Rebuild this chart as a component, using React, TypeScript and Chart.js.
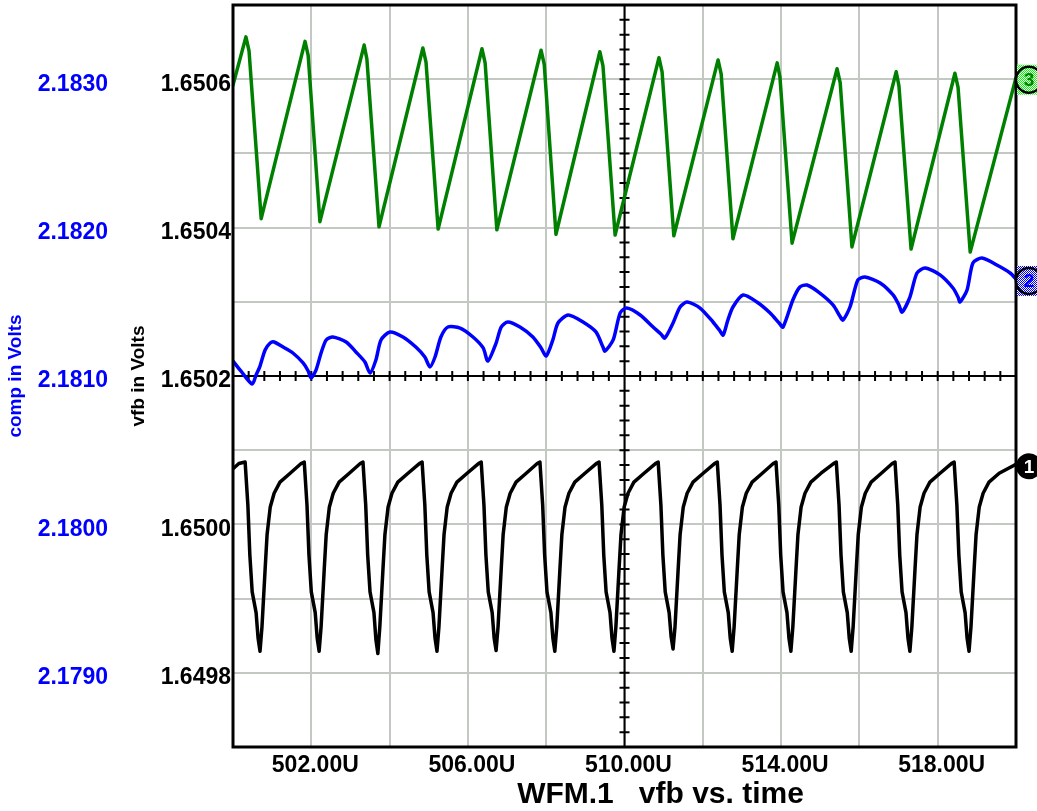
import React, { useEffect, useRef } from 'react';
import { Chart, registerables } from 'chart.js';

Chart.register(...registerables);

// ---------- axes ----------
const timeRange = [500, 520];
const vfbRange = [1.6497, 1.6507];
const compRange = [2.1785, 2.1835];
const crossTime = 510;
const crossVfb = 1.6502;
const xTickLabels = ['502.00U', '506.00U', '510.00U', '514.00U', '518.00U'];
const vfbTickLabels = ['1.6498', '1.6500', '1.6502', '1.6504', '1.6506'];
const compTickLabels = ['2.1790', '2.1800', '2.1810', '2.1820', '2.1830'];
const vfbTitle = 'vfb in Volts';
const compTitle = 'comp in Volts';
const chartTitle = 'WFM.1   vfb vs. time';
const traceTags = ['3', '2', '1'];

// ---------- trace 3 (green, vfb units) ----------
const greenTime = [
  500.0, 500.33, 500.41, 500.72, 501.84, 501.92, 502.22, 503.35, 503.42, 503.73,
  504.85, 504.93, 505.24, 506.36, 506.44, 506.74, 507.87, 507.95, 508.25, 509.37,
  509.45, 509.76, 510.88, 510.96, 511.26, 512.39, 512.47, 512.77, 513.9, 513.97,
  514.28, 515.43, 515.51, 515.81, 516.94, 517.01, 517.32, 518.44, 518.52, 518.83, 520.0,
];
const greenVfb = [
  1.650592, 1.650657, 1.650638, 1.650412, 1.650651, 1.650632, 1.650408, 1.650646, 1.650627, 1.650401,
  1.650642, 1.650623, 1.650398, 1.650641, 1.650622, 1.650397, 1.650639, 1.65062, 1.650391, 1.650637,
  1.650618, 1.65039, 1.650629, 1.65061, 1.650389, 1.650626, 1.650607, 1.650385, 1.650622, 1.650603,
  1.650379, 1.650614, 1.650595, 1.650374, 1.65061, 1.650591, 1.650371, 1.650608, 1.650589, 1.650367, 1.650602,
];

// ---------- trace 2 (blue, comp units) ----------
const blueTime = [
  500.0, 500.2, 500.49, 500.59, 500.69, 500.82, 500.95, 501.05, 501.28, 501.53, 501.79, 501.92,
  501.99, 502.12, 502.25, 502.38, 502.55, 502.89, 503.14, 503.37,
  503.5, 503.65, 503.78, 504.01, 504.34, 504.67, 504.9,
  505.03, 505.16, 505.31, 505.49, 505.8, 506.13, 506.39,
  506.51, 506.72, 506.85, 507.02, 507.33, 507.66, 507.87,
  508.0, 508.17, 508.3, 508.56, 508.94, 509.27, 509.45,
  509.5, 509.71, 509.89, 510.06, 510.4, 510.73, 510.93,
  511.03, 511.24, 511.42, 511.6, 511.93, 512.26, 512.44,
  512.52, 512.64, 512.77, 513.03, 513.38, 513.72, 513.95,
  514.05, 514.3, 514.48, 514.66, 514.99, 515.33, 515.5,
  515.58, 515.76, 515.96, 516.14, 516.53, 516.86, 517.01,
  517.09, 517.29, 517.47, 517.68, 518.06, 518.39, 518.52,
  518.57, 518.75, 518.9, 519.13, 519.51, 519.85, 520.0,
];
const blueComp = [
  2.181101, 2.181034, 2.180946, 2.181007, 2.181067, 2.181175, 2.181222, 2.181229, 2.181195, 2.181155, 2.181088, 2.181034,
  2.180987, 2.18104, 2.181155, 2.181243, 2.181263, 2.181229, 2.181162, 2.181094,
  2.18102, 2.181108, 2.181243, 2.181297, 2.181263, 2.181195, 2.181128,
  2.181061, 2.181128, 2.181263, 2.18133, 2.181323, 2.181263, 2.181189,
  2.181101, 2.181222, 2.18133, 2.181364, 2.18133, 2.181263, 2.181189,
  2.181135, 2.181243, 2.181357, 2.181411, 2.181364, 2.181297, 2.181195,
  2.181168, 2.181243, 2.181425, 2.181458, 2.181411, 2.18133, 2.181283,
  2.181256, 2.181357, 2.181465, 2.181499, 2.181458, 2.181364, 2.181303,
  2.181276, 2.181377, 2.181465, 2.181546, 2.181499, 2.181425, 2.181357,
  2.18133, 2.181512, 2.1816, 2.181613, 2.181559, 2.181478, 2.181404,
  2.181377, 2.181465, 2.181647, 2.181667, 2.181627, 2.181546, 2.181478,
  2.181431, 2.181532, 2.181694, 2.181728, 2.181681, 2.181593, 2.181532,
  2.181499, 2.18158, 2.181762, 2.181795, 2.181748, 2.181694, 2.181654,
];

// ---------- trace 1 (black, vfb units) ----------
const blackTime = [
  500.0, 500.15,
  500.31, 500.38, 500.43, 500.49, 500.59, 500.64, 500.69, 500.74, 500.82, 500.87, 500.95, 501.05, 501.2, 501.46, 501.74,
  501.82, 501.89, 501.94, 502.0, 502.1, 502.15, 502.2, 502.25, 502.33, 502.38, 502.46, 502.56, 502.71, 502.97, 503.25,
  503.32, 503.39, 503.44, 503.5, 503.6, 503.65, 503.7, 503.75, 503.83, 503.88, 503.96, 504.06, 504.21, 504.47, 504.76,
  504.83, 504.9, 504.95, 505.01, 505.11, 505.16, 505.21, 505.26, 505.34, 505.39, 505.47, 505.57, 505.72, 505.98, 506.27,
  506.34, 506.41, 506.46, 506.52, 506.62, 506.67, 506.72, 506.77, 506.85, 506.9, 506.98, 507.08, 507.23, 507.49, 507.77,
  507.84, 507.91, 507.96, 508.02, 508.12, 508.17, 508.22, 508.27, 508.35, 508.4, 508.48, 508.58, 508.73, 508.99, 509.28,
  509.35, 509.42, 509.47, 509.53, 509.63, 509.68, 509.73, 509.78, 509.86, 509.91, 509.99, 510.09, 510.24, 510.5, 510.79,
  510.86, 510.93, 510.98, 511.04, 511.14, 511.19, 511.24, 511.29, 511.37, 511.42, 511.5, 511.6, 511.75, 512.01, 512.3,
  512.37, 512.44, 512.49, 512.55, 512.65, 512.7, 512.75, 512.8, 512.88, 512.93, 513.01, 513.11, 513.26, 513.52, 513.8,
  513.87, 513.94, 513.99, 514.05, 514.15, 514.2, 514.25, 514.3, 514.38, 514.43, 514.51, 514.61, 514.76, 515.02, 515.34,
  515.41, 515.48, 515.53, 515.59, 515.69, 515.74, 515.79, 515.84, 515.92, 515.97, 516.05, 516.15, 516.3, 516.56, 516.84,
  516.91, 516.98, 517.03, 517.09, 517.19, 517.24, 517.29, 517.34, 517.42, 517.47, 517.55, 517.65, 517.8, 518.06, 518.35,
  518.42, 518.49, 518.54, 518.6, 518.7, 518.75, 518.8, 518.85, 518.93, 518.98, 519.06, 519.16, 519.31, 519.57,
  520.0,
];
const blackVfb = [
  1.650075, 1.650082,
  1.650084, 1.650026, 1.649959, 1.649909, 1.649881, 1.649847, 1.649829, 1.649862, 1.649939, 1.649986, 1.650023, 1.650042, 1.650057, 1.650069, 1.650082,
  1.650084, 1.650026, 1.649959, 1.649909, 1.649881, 1.649847, 1.649829, 1.649862, 1.649939, 1.649986, 1.650023, 1.650042, 1.650057, 1.650069, 1.650082,
  1.650084, 1.650026, 1.649959, 1.649909, 1.649881, 1.649845, 1.649826, 1.649862, 1.649939, 1.649986, 1.650023, 1.650042, 1.650057, 1.650069, 1.650082,
  1.650084, 1.650026, 1.649959, 1.649909, 1.649881, 1.649847, 1.649829, 1.649862, 1.649939, 1.649986, 1.650023, 1.650042, 1.650057, 1.650069, 1.650082,
  1.650084, 1.650026, 1.649959, 1.649909, 1.649881, 1.649847, 1.64983, 1.649862, 1.649939, 1.649986, 1.650023, 1.650042, 1.650057, 1.650069, 1.650082,
  1.650084, 1.650026, 1.649959, 1.649909, 1.649881, 1.649847, 1.649829, 1.649862, 1.649939, 1.649986, 1.650023, 1.650042, 1.650057, 1.650069, 1.650082,
  1.650084, 1.650026, 1.649959, 1.649909, 1.649881, 1.649847, 1.649829, 1.649862, 1.649939, 1.649986, 1.650023, 1.650042, 1.650057, 1.650069, 1.650082,
  1.650084, 1.650026, 1.649959, 1.649909, 1.649881, 1.649849, 1.649832, 1.649862, 1.649939, 1.649986, 1.650023, 1.650042, 1.650057, 1.650069, 1.650082,
  1.650084, 1.650026, 1.649959, 1.649909, 1.649881, 1.649847, 1.649829, 1.649862, 1.649939, 1.649986, 1.650023, 1.650042, 1.650057, 1.650069, 1.650082,
  1.650084, 1.650026, 1.649959, 1.649909, 1.649881, 1.649847, 1.649829, 1.649862, 1.649939, 1.649986, 1.650023, 1.650042, 1.650057, 1.650069, 1.650082,
  1.650084, 1.650026, 1.649959, 1.649909, 1.649881, 1.649847, 1.649829, 1.649862, 1.649939, 1.649986, 1.650023, 1.650042, 1.650057, 1.650069, 1.650082,
  1.650084, 1.650026, 1.649959, 1.649909, 1.649881, 1.649847, 1.649829, 1.649862, 1.649939, 1.649986, 1.650023, 1.650042, 1.650057, 1.650069, 1.650082,
  1.650084, 1.650026, 1.649959, 1.649909, 1.649881, 1.649847, 1.649829, 1.649862, 1.649939, 1.649986, 1.650023, 1.650042, 1.650057, 1.650069,
  1.650081,
];

const FONT = "'Liberation Sans', Arial, Helvetica, sans-serif";
const GRID = '#c3c8c3';
const GREEN = '#008000';
const BLUE = '#0000ff';
const BLACK = '#000000';

function matchLabel(labels: string[], v: number, tol: number) {
  const hit = labels.find((l) => Math.abs(parseFloat(l) - v) < tol);
  return hit === undefined ? '' : hit;
}

function makeChecker(color: string) {
  const c = document.createElement('canvas');
  c.width = 2;
  c.height = 2;
  const g = c.getContext('2d')!;
  g.fillStyle = '#ffffff';
  g.fillRect(0, 0, 2, 2);
  g.fillStyle = color;
  g.fillRect(0, 0, 1, 1);
  g.fillRect(1, 1, 1, 1);
  return c;
}

const scopePlugin = {
  id: 'scopeDecor',
  beforeDatasetsDraw(chart: any) {
    const { ctx, chartArea: a, scales } = chart;
    const xs = scales.x;
    const ys = scales.vfb;
    const cx = xs.getPixelForValue(crossTime);
    const cy = ys.getPixelForValue(crossVfb);
    ctx.save();
    ctx.strokeStyle = BLACK;
    ctx.lineWidth = 2;
    ctx.beginPath();
    ctx.moveTo(cx, a.top);
    ctx.lineTo(cx, a.bottom);
    ctx.moveTo(a.left, cy);
    ctx.lineTo(a.right, cy);
    for (let i = 0; i <= 50; i++) {
      const y = ys.getPixelForValue(vfbRange[0] + i * 0.00002);
      ctx.moveTo(cx - 5, y);
      ctx.lineTo(cx + 5, y);
      const x = xs.getPixelForValue(timeRange[0] + i * 0.4);
      ctx.moveTo(x, cy - 5);
      ctx.lineTo(x, cy + 5);
    }
    ctx.stroke();
    ctx.restore();
  },
  afterDraw(chart: any) {
    const { ctx, chartArea: a } = chart;
    ctx.save();
    // frame
    ctx.strokeStyle = BLACK;
    ctx.lineWidth = 3;
    ctx.strokeRect(a.left, a.top, a.right - a.left, a.bottom - a.top);

    // trace tags
    const fills = [GREEN, BLUE, BLACK];
    chart.data.datasets.forEach((ds: any, i: number) => {
      const meta = chart.getDatasetMeta(i);
      const last = meta.data[meta.data.length - 1];
      if (!last) return;
      const cy = last.y + 2;
      const cx = a.right + 13;
      const r = 13;
      if (i < 2) {
        const pat = ctx.createPattern(makeChecker(i === 0 ? '#00ff00' : '#0000ff'), 'repeat');
        ctx.fillStyle = pat;
        ctx.fillRect(a.right + 1, cy - 15, 30, 30);
        ctx.beginPath();
        ctx.arc(cx, cy, r, 0, Math.PI * 2);
        ctx.lineWidth = 2.5;
        ctx.strokeStyle = BLACK;
        ctx.stroke();
        ctx.fillStyle = fills[i];
      } else {
        ctx.beginPath();
        ctx.arc(cx, cy, r, 0, Math.PI * 2);
        ctx.fillStyle = BLACK;
        ctx.fill();
        ctx.fillStyle = '#ffffff';
      }
      ctx.font = `bold 19px ${FONT}`;
      ctx.textAlign = 'center';
      ctx.textBaseline = 'middle';
      ctx.fillText(traceTags[i], cx, cy + 1);
    });

    // bottom title
    ctx.fillStyle = BLACK;
    ctx.font = `bold 30px ${FONT}`;
    ctx.textAlign = 'center';
    ctx.textBaseline = 'middle';
    ctx.fillText(chartTitle, (a.left + a.right) / 2 + 36, chart.height - 16);
    ctx.restore();
  },
};

export default function App() {
  const ref = useRef<HTMLCanvasElement>(null);

  useEffect(() => {
    const canvas = ref.current;
    if (!canvas) return;
    const toPts = (t: number[], v: number[]) => t.map((x, i) => ({ x, y: v[i] }));
    const tickFont = { family: FONT, size: 23, weight: 'bold' as const };
    const line = (color: string, tension: number) => ({
      borderColor: color,
      borderWidth: 3.5,
      pointRadius: 0,
      tension,
      borderJoinStyle: 'round' as const,
      borderCapStyle: 'round' as const,
    });

    const chart = new Chart(canvas, {
      type: 'line',
      data: {
        datasets: [
          { label: '3', data: toPts(greenTime, greenVfb), yAxisID: 'vfb', ...line(GREEN, 0) },
          { label: '2', data: toPts(blueTime, blueComp), yAxisID: 'comp', ...line(BLUE, 0.25) },
          { label: '1', data: toPts(blackTime, blackVfb), yAxisID: 'vfb', ...line(BLACK, 0) },
        ],
      },
      options: {
        responsive: false,
        animation: false,
        events: [],
        layout: { padding: { left: 0, right: 21, top: 5, bottom: 0 } },
        plugins: {
          legend: { display: false },
          tooltip: { enabled: false },
          title: { display: false },
        },
        scales: {
          x: {
            type: 'linear',
            position: 'bottom',
            min: timeRange[0],
            max: timeRange[1],
            border: { display: false },
            grid: { color: GRID, lineWidth: 2, drawTicks: false },
            ticks: {
              stepSize: 2,
              autoSkip: false,
              maxRotation: 0,
              minRotation: 0,
              padding: 5,
              labelOffset: 4,
              color: BLACK,
              font: tickFont,
              callback: (v: any) => matchLabel(xTickLabels, Number(v), 1e-6),
            },
            afterFit: (s: any) => {
              s.height = 64;
              s.paddingLeft = 0;
              s.paddingRight = 0;
            },
          },
          vfb: {
            type: 'linear',
            position: 'left',
            weight: 0,
            min: vfbRange[0],
            max: vfbRange[1],
            border: { display: false },
            grid: { color: GRID, lineWidth: 2, drawTicks: false },
            ticks: {
              stepSize: 0.0001,
              autoSkip: false,
              padding: 2,
              labelOffset: 5,
              color: BLACK,
              font: tickFont,
              callback: (v: any) => matchLabel(vfbTickLabels, Number(v), 1e-8),
            },
            title: {
              display: true,
              text: vfbTitle,
              color: BLACK,
              font: { family: FONT, size: 19, weight: 'bold' },
              padding: { top: 7, bottom: 0 },
            },
            afterFit: (s: any) => {
              s.width = 113;
              s.paddingTop = 0;
              s.paddingBottom = 0;
            },
          },
          comp: {
            type: 'linear',
            position: 'left',
            weight: 1,
            min: compRange[0],
            max: compRange[1],
            border: { display: false },
            grid: { display: false, drawTicks: false },
            ticks: {
              stepSize: 0.0005,
              autoSkip: false,
              padding: 12,
              labelOffset: 5,
              color: BLUE,
              font: tickFont,
              callback: (v: any) => matchLabel(compTickLabels, Number(v), 1e-7),
            },
            title: {
              display: true,
              text: compTitle,
              color: BLUE,
              font: { family: FONT, size: 19, weight: 'bold' },
              padding: { top: 4, bottom: 0 },
            },
            afterFit: (s: any) => {
              s.width = 120;
              s.paddingTop = 0;
              s.paddingBottom = 0;
            },
          },
        },
      } as any,
      plugins: [scopePlugin],
    });

    return () => chart.destroy();
  }, []);

  return (
    <div style={{ position: 'absolute', left: 0, top: 0, width: 1037, height: 811, background: '#ffffff' }}>
      <canvas ref={ref} width={1037} height={811} style={{ display: 'block' }} />
    </div>
  );
}
